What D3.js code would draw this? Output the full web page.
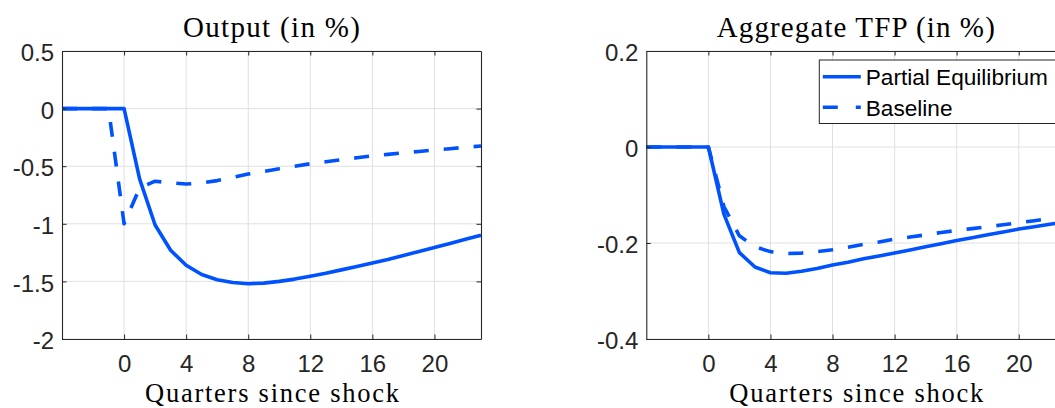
<!DOCTYPE html>
<html>
<head>
<meta charset="utf-8">
<script src="https://cdn.jsdelivr.net/npm/d3@7"></script>
<style>
  html, body { margin: 0; padding: 0; background: #fff; overflow: hidden; }
  svg { display: block; }
</style>
</head>
<body>
<svg id="chart" width="1055" height="408"></svg>
<script>
// ---------------- data ----------------
const quarters = [-4,-3,-2,-1,0,1,2,3,4,5,6,7,8,9,10,11,12,13,14,15,16,17,18,19,20,21,22,23];

const outputPartial = [0,0,0,0,0,-0.61,-1.01,-1.23,-1.36,-1.44,-1.485,-1.51,-1.52,-1.515,-1.50,-1.48,-1.455,-1.43,-1.40,-1.37,-1.34,-1.31,-1.275,-1.24,-1.205,-1.17,-1.135,-1.10];
const outputBaseline = [0,0,0,0,-1.0,-0.69,-0.63,-0.645,-0.655,-0.645,-0.625,-0.597,-0.568,-0.545,-0.522,-0.50,-0.479,-0.462,-0.444,-0.427,-0.41,-0.397,-0.384,-0.372,-0.36,-0.348,-0.336,-0.325];

const tfpPartial = [0,0,0,0,0,-0.14,-0.22,-0.25,-0.262,-0.263,-0.259,-0.253,-0.246,-0.24,-0.233,-0.227,-0.221,-0.2145,-0.208,-0.2015,-0.195,-0.189,-0.183,-0.177,-0.171,-0.166,-0.161,-0.156];
const tfpBaseline = [0,0,0,0,0,-0.124,-0.185,-0.208,-0.218,-0.222,-0.221,-0.218,-0.214,-0.209,-0.203,-0.198,-0.192,-0.1875,-0.183,-0.178,-0.174,-0.170,-0.166,-0.162,-0.158,-0.1535,-0.149,-0.145];

const xTicks = [0,4,8,12,16,20];
const outputYTicks = [0.5,0,-0.5,-1,-1.5,-2];
const outputYTickLabels = ["0.5","0","-0.5","-1","-1.5","-2"];
const tfpYTicks = [0.2,0,-0.2,-0.4];
const tfpYTickLabels = ["0.2","0","-0.2","-0.4"];

const titles = ["Output (in %)", "Aggregate TFP (in %)"];
const xLabel = "Quarters since shock";
const seriesNames = ["Partial Equilibrium", "Baseline"];

// ---------------- styling ----------------
const BLUE = "#0052ff";
const AXIS = "#262626";
const GRID = "#e0e0e0";
const LW = 3.6;
const svg = d3.select("#chart");

function panel(cfg) {
  const { left, top, width, height, yDomain, yTicks, yLabels, partial, baseline, title, titleLen, xLabelLen, legend } = cfg;
  const g = svg.append("g").attr("transform", `translate(${left},${top})`);
  const x = d3.scaleLinear().domain([-4, 23]).range([0, width]);
  const y = d3.scaleLinear().domain(yDomain).range([height, 0]);

  // grid
  g.append("g").selectAll("line").data(xTicks).join("line")
    .attr("x1", d => x(d)).attr("x2", d => x(d)).attr("y1", 0).attr("y2", height)
    .attr("stroke", GRID).attr("stroke-width", 1);
  g.append("g").selectAll("line").data(yTicks).join("line")
    .attr("y1", d => y(d)).attr("y2", d => y(d)).attr("x1", 0).attr("x2", width)
    .attr("stroke", GRID).attr("stroke-width", 1);

  // lines
  const line = d3.line().x((d, i) => x(quarters[i])).y(d => y(d));
  g.append("path").datum(partial).attr("d", line)
    .attr("fill", "none").attr("stroke", BLUE).attr("stroke-width", LW)
    .attr("stroke-linejoin", "round");
  g.append("path").datum(baseline).attr("d", line)
    .attr("fill", "none").attr("stroke", BLUE).attr("stroke-width", LW)
    .attr("stroke-linejoin", "round").attr("stroke-dasharray", "15,15");

  // axes
  const fontTick = "'Liberation Sans', Arial, Helvetica, sans-serif";
  const bottom = g.append("g").attr("transform", `translate(0,${height})`)
    .call(d3.axisBottom(x).tickValues(xTicks).tickSizeInner(-4.5).tickSizeOuter(0).tickPadding(16).tickFormat(d3.format("d")));
  const topAx = g.append("g")
    .call(d3.axisTop(x).tickValues(xTicks).tickSizeInner(-4.5).tickSizeOuter(0).tickFormat(""));
  const leftAx = g.append("g")
    .call(d3.axisLeft(y).tickValues(yTicks).tickSizeInner(-4.5).tickSizeOuter(0).tickPadding(8)
      .tickFormat((d, i) => yLabels[i]));
  const rightAx = g.append("g").attr("transform", `translate(${width},0)`)
    .call(d3.axisRight(y).tickValues(yTicks).tickSizeInner(-4.5).tickSizeOuter(0).tickFormat(""));
  [bottom, topAx, leftAx, rightAx].forEach(a => {
    a.select(".domain").attr("stroke", AXIS).attr("stroke-width", 1.1);
    a.selectAll(".tick line").attr("stroke", AXIS).attr("stroke-width", 1);
    a.selectAll("text").attr("font-family", fontTick).attr("font-size", 24).attr("fill", "#262626");
  });
  leftAx.selectAll("text").attr("dy", "0.4em");

  // title
  const serif = "'Liberation Serif', 'Times New Roman', serif";
  g.append("text").attr("x", width / 2).attr("y", -14).attr("text-anchor", "middle")
    .attr("font-family", serif).attr("font-size", 29).attr("fill", "#000")
    .attr("textLength", titleLen).attr("lengthAdjust", "spacing").text(title);
  g.append("text").attr("x", width / 2 + 0.5).attr("y", height + 63).attr("text-anchor", "middle")
    .attr("font-family", serif).attr("font-size", 26.5).attr("fill", "#000")
    .attr("textLength", xLabelLen).attr("lengthAdjust", "spacing").text(xLabel);

  if (legend) {
    const lg = g.append("g").attr("transform", `translate(${legend.x - left},${legend.y - top})`);
    lg.append("rect").attr("x", 0).attr("y", 0).attr("width", 250).attr("height", 63.5)
      .attr("fill", "#fff").attr("stroke", AXIS).attr("stroke-width", 1);
    const rows = [{ name: seriesNames[0], dash: null, yy: 16.7 }, { name: seriesNames[1], dash: "15,18", yy: 47.3 }];
    rows.forEach(r => {
      lg.append("line").attr("x1", 3.5).attr("x2", 41.5).attr("y1", r.yy).attr("y2", r.yy)
        .attr("stroke", BLUE).attr("stroke-width", LW)
        .attr("stroke-dasharray", r.dash);
      lg.append("text").attr("x", 46.5).attr("y", r.yy + 8.6)
        .attr("font-family", fontTick).attr("font-size", 22.6).attr("fill", "#000").text(r.name);
    });
  }
}

panel({
  left: 62, top: 51, width: 419, height: 288,
  yDomain: [-2, 0.5], yTicks: outputYTicks, yLabels: outputYTickLabels,
  partial: outputPartial, baseline: outputBaseline,
  title: titles[0], titleLen: 177, xLabelLen: 254
});
panel({
  left: 646.3, top: 51, width: 419, height: 288,
  yDomain: [-0.4, 0.2], yTicks: tfpYTicks, yLabels: tfpYTickLabels,
  partial: tfpPartial, baseline: tfpBaseline,
  title: titles[1], titleLen: 278, xLabelLen: 254,
  legend: { x: 819.3, y: 60 }
});
</script>
</body>
</html>
